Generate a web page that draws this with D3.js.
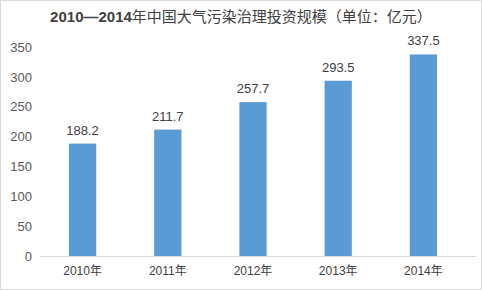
<!DOCTYPE html>
<html>
<head>
<meta charset="utf-8">
<script src="https://cdn.jsdelivr.net/npm/d3@7.9.0/dist/d3.min.js"></script>
<style>
  html, body { margin: 0; padding: 0; background: #fff; }
  svg { display: block; font-family: "Liberation Sans", Arial, "Noto Sans CJK SC", sans-serif; }
</style>
</head>
<body>
<svg id="chart" width="482" height="290"></svg>
<script>
const titleYears = '2010\u20142014';
const titleText = '年中国大气污染治理投资规模（单位：亿元）';
const years = ['2010年', '2011年', '2012年', '2013年', '2014年'];
const investment = [188.2, 211.7, 257.7, 293.5, 337.5];
const yTicks = [0, 50, 100, 150, 200, 250, 300, 350];

const svg = d3.select('#chart');
const W = 482, H = 290;
const margin = { top: 47, right: 16, bottom: 34, left: 40 };

// frame
svg.append('rect')
  .attr('x', 0.5).attr('y', 0.5)
  .attr('width', W - 1).attr('height', H - 1)
  .attr('fill', '#fff').attr('stroke', '#d9d9d9');

const x = d3.scaleBand()
  .domain(years)
  .range([margin.left, W - margin.right])
  .paddingInner(0.68)
  .paddingOuter(0.34);

const y = d3.scaleLinear()
  .domain([0, 350])
  .range([H - margin.bottom, margin.top]);

const t = svg.append('text')
  .attr('x', W / 2).attr('y', 22)
  .attr('text-anchor', 'middle')
  .attr('font-size', 15)
  .attr('fill', '#404040')
  .style('font-family', '"Liberation Sans", "Noto Sans CJK SC", sans-serif');
t.append('tspan').attr('font-weight', 'bold').text(titleYears);
t.append('tspan').attr('font-weight', 'normal').text(titleText);

// y axis labels
const yAxis = d3.axisLeft(y).tickValues(yTicks).tickSize(0).tickPadding(0);
svg.append('g')
  .attr('transform', `translate(${margin.left - 8},0)`)
  .call(yAxis)
  .call(g => g.select('.domain').remove())
  .call(g => g.selectAll('text')
    .attr('font-size', 13).attr('fill', '#595959')
    .style('font-family', '"Liberation Sans", Arial, sans-serif'));

// x axis
const xAxis = d3.axisBottom(x).tickSize(0).tickPadding(10);
svg.append('g')
  .attr('transform', `translate(0,${y(0)})`)
  .call(xAxis)
  .call(g => g.select('.domain')
    .attr('stroke', '#d9d9d9')
    .attr('d', `M${margin.left},0.5H${W - 6}`))
  .call(g => g.selectAll('text')
    .attr('font-size', 12).attr('fill', '#404040')
    .style('font-family', '"Liberation Sans", "Noto Sans CJK SC", sans-serif'));

// bars
svg.append('g').selectAll('rect')
  .data(investment)
  .join('rect')
  .attr('x', (d, i) => x(years[i]))
  .attr('y', d => y(d))
  .attr('width', x.bandwidth())
  .attr('height', d => y(0) - y(d))
  .attr('fill', '#5b9bd5');

// value labels
svg.append('g').selectAll('text')
  .data(investment)
  .join('text')
  .attr('x', (d, i) => x(years[i]) + x.bandwidth() / 2)
  .attr('y', d => y(d) - 9)
  .attr('text-anchor', 'middle')
  .attr('font-size', 13)
  .attr('fill', '#404040')
  .text(d => d.toFixed(1));
</script>
</body>
</html>
